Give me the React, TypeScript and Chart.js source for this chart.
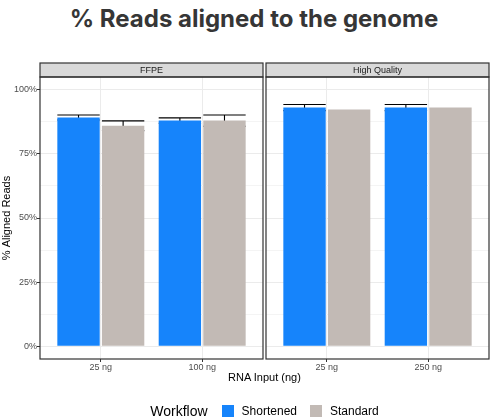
import { useEffect, useRef } from "react";
import { Chart, registerables } from "chart.js";

Chart.register(...registerables);

const FONT = "'Liberation Sans', Arial, sans-serif";

const facets = ["FFPE", "High Quality"];
const workflows = ["Shortened", "Standard"];
const workflowColors = ["#1684fb", "#c2bab5"];

const ffpeInputs = ["25 ng", "100 ng"];
const ffpeShortened = [89.2, 88.0];
const ffpeShortenedErr = [1.0, 1.05];
const ffpeStandard = [86.0, 88.0];
const ffpeStandardErr = [1.9, 2.2];

const hqInputs = ["25 ng", "250 ng"];
const hqShortened = [93.1, 93.1];
const hqShortenedErr = [1.2, 1.2];
const hqStandard = [92.3, 93.1];
const hqStandardErr = [0, 0];

const yTicks = [0, 12.5, 25, 37.5, 50, 62.5, 75, 87.5, 100];
const yLabelled = [0, 25, 50, 75, 100];

interface PanelProps {
	facet: string;
	inputs: string[];
	series: number[][];
	errors: number[][];
	showY: boolean;
	left: number;
	right: number;
}

const Panel: React.FC<PanelProps> = ({ facet, inputs, series, errors, showY, left, right }) => {
	const canvasRef = useRef<HTMLCanvasElement>(null);
	const chartRef = useRef<Chart | null>(null);

	useEffect(() => {
		if (!canvasRef.current) return;
		if (chartRef.current) chartRef.current.destroy();

		const errorBars = {
			id: "errorBars",
			beforeDatasetsDraw(chart: any) {
				const { ctx } = chart;
				const yScale = chart.scales.y;
				ctx.save();
				ctx.strokeStyle = "#000";
				ctx.lineWidth = 1.1;
				series.forEach((vals, i) => {
					const meta = chart.getDatasetMeta(i);
					vals.forEach((v, j) => {
						const e = errors[i][j];
						if (!e) return;
						const bar = meta.data[j];
						const top = yScale.getPixelForValue(v + e);
						const bot = yScale.getPixelForValue(v - e);
						const hw = bar.width / 2;
						ctx.beginPath();
						ctx.moveTo(bar.x, top);
						ctx.lineTo(bar.x, bot);
						ctx.moveTo(bar.x - hw, top);
						ctx.lineTo(bar.x + hw, top);
						ctx.moveTo(bar.x - hw, bot);
						ctx.lineTo(bar.x + hw, bot);
						ctx.stroke();
					});
				});
				ctx.restore();
			},
		};

		const panelFrame = {
			id: "panelFrame",
			afterDraw(chart: any) {
				const { ctx, chartArea: a } = chart;
				const stripH = 14;
				ctx.save();
				ctx.fillStyle = "#d9d9d9";
				ctx.fillRect(a.left, a.top - stripH, a.right - a.left, stripH);
				ctx.strokeStyle = "#333333";
				ctx.lineWidth = 1.2;
				ctx.strokeRect(a.left, a.top - stripH, a.right - a.left, stripH);
				ctx.strokeRect(a.left, a.top, a.right - a.left, a.bottom - a.top);
				ctx.fillStyle = "#1a1a1a";
				ctx.font = `9px ${FONT}`;
				ctx.textAlign = "center";
				ctx.textBaseline = "middle";
				ctx.fillText(facet, (a.left + a.right) / 2, a.top - stripH / 2 + 0.5);
				ctx.restore();
			},
		};

		chartRef.current = new Chart(canvasRef.current, {
			type: "bar",
			data: {
				datasets: series.map((vals, i) => ({
					label: workflows[i],
					data: vals.map((v, j) => ({ x: j + 1, y: v })),
					backgroundColor: workflowColors[i],
					borderWidth: 0,
					categoryPercentage: 0.88,
					barPercentage: 0.95,
				})),
			},
			options: {
				animation: false,
				responsive: false,
				maintainAspectRatio: false,
				layout: { padding: { left: showY ? 0 : left, right: 502 - right, top: 77, bottom: 46 } },
				plugins: { legend: { display: false }, title: { display: false }, tooltip: { enabled: false } },
				scales: {
					x: {
						type: "linear",
						min: 0.4,
						max: 2.6,
						offset: false,
						afterBuildTicks: (s: any) => {
							s.ticks = inputs.map((_, i) => ({ value: i + 1 }));
						},
						afterFit: (s: any) => {
							s.height = 14;
						},
						ticks: {
							callback: (v: any) => inputs[Math.round(v) - 1],
							color: "#4d4d4d",
							font: { size: 9, family: FONT },
							padding: 0,
							maxRotation: 0,
						},
						grid: { offset: false, color: "#ebebeb", lineWidth: 1, tickLength: 3, tickColor: "#333333" },
						border: { display: false },
					},
					y: {
						min: -5,
						max: 105,
						afterBuildTicks: (s: any) => {
							s.ticks = yTicks.map((v) => ({ value: v }));
						},
						afterFit: (s: any) => {
							s.width = showY ? left : 0;
						},
						ticks: {
							display: showY,
							callback: (v: any) => (yLabelled.includes(v) ? `${v}%` : ""),
							color: "#4d4d4d",
							font: { size: 9, family: FONT },
							padding: 0,
						},
						grid: {
							color: (c: any) => (yLabelled.includes(c.tick?.value) ? "#ebebeb" : "#f4f4f4"),
							lineWidth: 1,
							drawTicks: showY,
							tickLength: 3,
							tickColor: (c: any) => (yLabelled.includes(c.tick?.value) ? "#333333" : "rgba(0,0,0,0)"),
						},
						border: { display: false },
						title: {
							display: showY,
							text: "% Aligned Reads",
							color: "#000",
							font: { size: 11, family: FONT },
							padding: { top: 0, bottom: 0 },
						},
					},
				},
			},
			plugins: [errorBars, panelFrame],
		});

		return () => {
			chartRef.current?.destroy();
		};
	}, [facet, inputs, series, errors, showY, left, right]);

	return (
		<canvas
			ref={canvasRef}
			width={502}
			height={419}
			style={{ position: "absolute", left: 0, top: 0, width: 502, height: 419 }}
		/>
	);
};

const App: React.FC = () => {
	return (
		<div
			style={{
				position: "absolute",
				left: 0,
				top: 0,
				width: 502,
				height: 419,
				background: "#fff",
				fontFamily: FONT,
			}}
		>
			<div
				style={{
					position: "absolute",
					left: 0,
					top: 1,
					width: 508,
					textAlign: "center",
					fontFamily: "Inter, sans-serif",
					fontWeight: 700,
					fontSize: 24,
					lineHeight: "36px",
					color: "#363636",
				}}
			>
				% Reads aligned to the genome
			</div>
			<Panel
				facet={facets[0]}
				inputs={ffpeInputs}
				series={[ffpeShortened, ffpeStandard]}
				errors={[ffpeShortenedErr, ffpeStandardErr]}
				showY={true}
				left={40}
				right={263}
			/>
			<Panel
				facet={facets[1]}
				inputs={hqInputs}
				series={[hqShortened, hqStandard]}
				errors={[hqShortenedErr, hqStandardErr]}
				showY={false}
				left={266}
				right={489}
			/>
			<div
				style={{
					position: "absolute",
					left: 40,
					top: 371,
					width: 449,
					textAlign: "center",
					fontSize: 11,
					lineHeight: "13px",
					color: "#000",
				}}
			>
				RNA Input (ng)
			</div>
			<div
				style={{
					position: "absolute",
					left: 40,
					top: 402,
					width: 449,
					height: 18,
					display: "flex",
					justifyContent: "center",
					alignItems: "center",
					color: "#000",
				}}
			>
				<span style={{ fontSize: 14, marginRight: 14 }}>Workflow</span>
				{workflows.map((w, i) => (
					<span key={w} style={{ display: "flex", alignItems: "center", marginRight: i === 0 ? 13 : 0 }}>
						<span style={{ width: 12, height: 12, background: workflowColors[i], marginRight: 8 }} />
						<span style={{ fontSize: 12 }}>{w}</span>
					</span>
				))}
			</div>
		</div>
	);
};

export default App;
